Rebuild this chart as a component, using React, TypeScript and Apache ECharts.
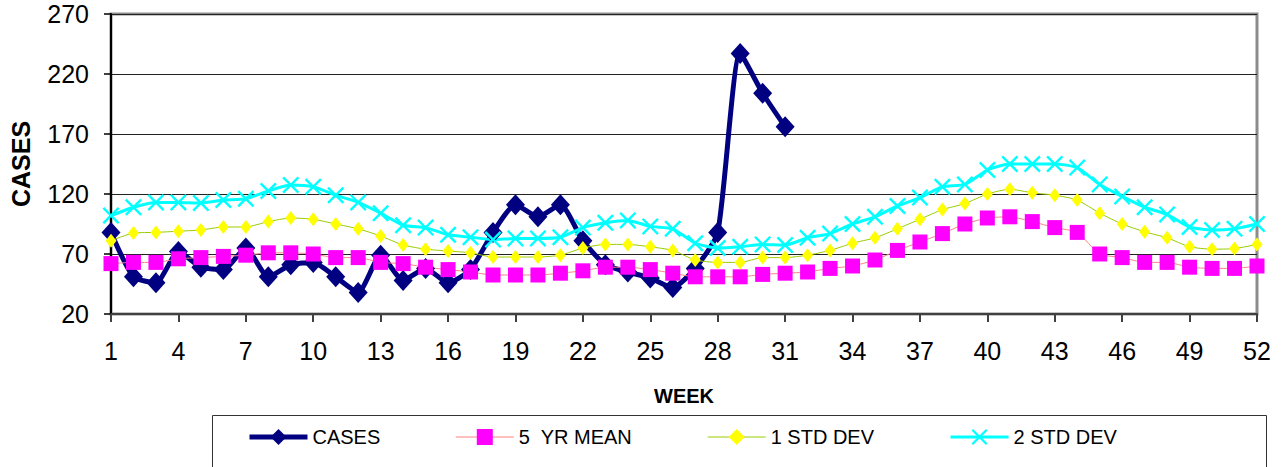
import React, { useEffect, useRef } from "react";
import * as echarts from "echarts";

const WEEKS: string[] = Array.from({ length: 52 }, (_, i) => String(i + 1));

const CASES: number[] = [
  88, 51, 46, 72, 59, 57, 75, 51, 61, 63, 51, 38, 69, 48, 58,
  46, 57, 88, 111, 101, 111, 81, 61, 55, 50, 42, 58, 88, 237, 204, 176,
];

const MEAN_5YR: number[] = [
  62, 63, 63, 66, 67, 68, 69, 71, 71, 70, 67, 67, 63, 62, 59,
  57, 55, 52.5, 52.5, 52.5, 54, 56, 59, 59, 57, 54, 51, 51, 51, 53, 54,
  55, 58, 60, 65, 73, 80, 87, 95, 100, 101, 97, 92, 88, 70, 67, 63, 63, 59, 58, 58, 60,
];

const STD_DEV_1: number[] = [
  81, 87.5, 88, 89, 90, 92.5, 92.5, 97, 100, 99, 95, 91, 85, 77.5, 74,
  72.5, 71, 67.5, 67.5, 67.5, 69, 75, 78, 78, 76, 73, 65, 63, 63, 67, 67,
  69, 73, 79, 83.5, 91, 99, 107, 112, 120, 124, 121, 119, 115, 104, 95, 88.5, 83.5, 76, 74, 74.5, 78,
];

const STD_DEV_2: number[] = [
  102, 109, 113, 113, 112.5, 115, 116, 122.5, 127.5, 126, 119, 113, 104, 94, 92,
  86, 84, 82, 83, 83, 84, 92, 96, 98, 93, 91, 79, 75, 76, 78, 77.5,
  83.5, 87, 95, 101, 110, 117, 126, 128, 140, 145, 145, 145, 142, 128, 118, 109, 103, 92.5, 90, 91, 95,
];

const SERIES_NAMES = ["CASES", "5  YR MEAN", "1 STD DEV", "2 STD DEV"];

const FONT = "'Liberation Sans', Arial, sans-serif";
const X_SYMBOL =
  "path://M0,1.6L1.6,0L8,6.4L14.4,0L16,1.6L9.6,8L16,14.4L14.4,16L8,9.6L1.6,16L0,14.4L6.4,8Z";

export default function App() {
  const ref = useRef<HTMLDivElement>(null);

  useEffect(() => {
    if (!ref.current) return;
    const chart = echarts.init(ref.current, undefined, { renderer: "svg" });
    chart.setOption({
      animation: false,
      backgroundColor: "#ffffff",
      textStyle: { fontFamily: FONT },
      grid: {
        left: 110,
        right: 30,
        top: 14,
        bottom: 153,
        show: true,
        borderColor: "#8c8c8c",
        borderWidth: 3,
        backgroundColor: "transparent",
      },
      legend: {
        left: 247,
        top: 427,
        padding: 0,
        itemWidth: 58,
        itemHeight: 20,
        itemGap: 75,
        textStyle: { fontSize: 20, color: "#000", fontFamily: FONT },
        lineStyle: { width: "inherit" },
        data: SERIES_NAMES,
      },
      graphic: [
        {
          type: "rect",
          shape: { x: 212.5, y: 415.5, width: 1054, height: 70 },
          style: { fill: "none", stroke: "#333", lineWidth: 1 },
          z: -1,
        },
      ],
      xAxis: {
        type: "category",
        data: WEEKS,
        boundaryGap: false,
        name: "WEEK",
        nameLocation: "middle",
        nameGap: 72,
        nameTextStyle: { fontSize: 20, fontWeight: "bold", color: "#000", fontFamily: FONT },
        axisLine: { lineStyle: { color: "#404040", width: 2 } },
        axisTick: { interval: 2, length: 8, lineStyle: { color: "#404040", width: 2 } },
        axisLabel: { interval: 2, fontSize: 25, color: "#000", margin: 24, fontFamily: FONT },
        splitLine: { show: false },
      },
      yAxis: {
        type: "value",
        min: 20,
        max: 270,
        interval: 50,
        name: "CASES",
        nameLocation: "middle",
        nameRotate: 90,
        nameGap: 78,
        nameTextStyle: { fontSize: 25, fontWeight: "bold", color: "#000", fontFamily: FONT },
        axisLine: { show: true, lineStyle: { color: "#000", width: 2 } },
        axisTick: { show: true, length: 7, lineStyle: { color: "#000", width: 1.5 } },
        axisLabel: { fontSize: 25, color: "#000", margin: 22, fontFamily: FONT },
        splitLine: { show: true, lineStyle: { color: "#222", width: 1 } },
      },
      series: [
        {
          name: SERIES_NAMES[0],
          type: "line",
          data: CASES,
          smooth: 0.2,
          showAllSymbol: true,
          symbol: "diamond",
          symbolSize: [19, 21],
          lineStyle: { color: "#000080", width: 5 },
          itemStyle: { color: "#000080" },
        },
        {
          name: SERIES_NAMES[1],
          type: "line",
          data: MEAN_5YR,
          smooth: 0.2,
          showAllSymbol: true,
          symbol: "rect",
          symbolSize: 15,
          lineStyle: { color: "#ff8080", width: 1 },
          itemStyle: { color: "#ff00ff" },
        },
        {
          name: SERIES_NAMES[2],
          type: "line",
          data: STD_DEV_1,
          smooth: 0.2,
          showAllSymbol: true,
          symbol: "diamond",
          symbolSize: [11, 14],
          lineStyle: { color: "#99cc00", width: 1 },
          itemStyle: { color: "#ffff00" },
        },
        {
          name: SERIES_NAMES[3],
          type: "line",
          data: STD_DEV_2,
          smooth: 0.2,
          showAllSymbol: true,
          symbol: X_SYMBOL,
          symbolSize: 17,
          lineStyle: { color: "#00ffff", width: 3 },
          itemStyle: { color: "#00ffff" },
        },
      ],
    });
    return () => chart.dispose();
  }, []);

  return (
    <div
      ref={ref}
      style={{ position: "fixed", left: 0, top: 0, width: 1287, height: 467 }}
    />
  );
}
